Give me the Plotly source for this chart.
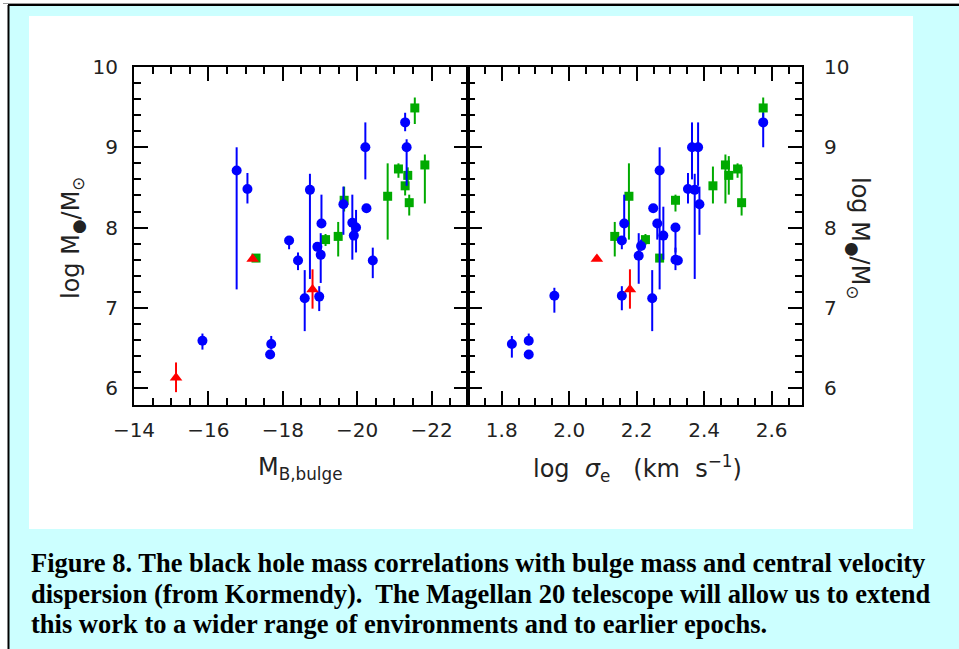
import plotly.graph_objects as go

W, H = 959, 649

# ---------------- data: left panel (bulge absolute magnitude) ----------------
blue_L_x = [-16.76, -17.05, -15.84, -17.69, -17.66, -18.17, -18.41, -18.59, -18.73, -18.93, -19.02,
            -19.04, -18.98, -19.63, -19.87, -19.91, -19.97, -20.22, -20.25, -20.42, -21.29, -21.33]
blue_L_y = [8.71, 8.48, 6.59, 6.55, 6.42, 7.84, 7.59, 7.12, 8.47, 7.76, 7.66,
            8.05, 7.14, 8.29, 8.06, 7.90, 8.00, 9.00, 8.24, 7.59, 9.31, 9.00]
blue_L_hi = [9.00, 8.68, 6.68, 6.65, 6.42, 7.89, 7.69, 7.47, 8.67, 7.76, 7.93,
             8.41, 7.27, 8.51, 8.41, 7.90, 8.22, 9.31, 8.24, 7.75, 9.43, 9.10]
blue_L_lo = [7.23, 8.30, 6.48, 6.48, 6.42, 7.73, 7.47, 6.71, 7.36, 7.76, 7.31,
             8.05, 6.96, 7.91, 7.60, 7.90, 7.69, 8.60, 8.24, 7.37, 9.20, 8.52]

green_L_x = [-17.28, -19.15, -19.49, -19.65, -20.82, -21.11, -21.36, -21.29, -21.40, -21.55, -21.82]
green_L_y = [7.62, 7.85, 7.89, 8.34, 8.39, 8.73, 8.65, 8.52, 8.31, 9.49, 8.78]
green_L_hi = [7.62, 7.92, 8.07, 8.51, 8.80, 8.80, 8.75, 8.52, 8.41, 9.62, 8.91]
green_L_lo = [7.62, 7.77, 7.64, 8.20, 7.85, 8.62, 8.52, 8.40, 8.15, 9.29, 8.30]

red_L_x = [-15.13, -17.19, -18.80]
red_L_y = [6.13, 7.61, 7.23]
red_L_hi = [6.32, 7.61, 7.48]
red_L_lo = [5.95, 7.61, 6.99]

# ---------------- data: right panel (log sigma_e) ----------------
blue_R_x = [1.83, 1.88, 1.88, 1.956, 2.156, 2.163, 2.156, 2.206, 2.213, 2.246, 2.249, 2.261,
            2.268, 2.279, 2.315, 2.315, 2.322, 2.352, 2.372, 2.364, 2.382, 2.386, 2.575]
blue_R_y = [6.55, 6.59, 6.42, 7.15, 7.84, 8.05, 7.15, 7.65, 7.77, 7.12, 8.24, 8.05,
            8.71, 7.90, 8.00, 7.60, 7.59, 8.48, 8.47, 9.00, 9.00, 8.29, 9.31]
blue_R_hi = [6.65, 6.68, 6.42, 7.25, 7.89, 8.41, 7.27, 7.93, 7.85, 7.47, 8.26, 8.05,
             9.00, 8.26, 8.00, 7.75, 7.59, 8.68, 8.67, 9.31, 9.31, 8.51, 9.43]
blue_R_lo = [6.38, 6.59, 6.42, 6.94, 7.73, 7.84, 6.97, 7.30, 7.77, 6.71, 8.22, 7.85,
             7.23, 7.60, 7.69, 7.47, 7.59, 8.30, 7.36, 8.60, 8.52, 7.91, 9.00]

green_R_x = [2.135, 2.177, 2.226, 2.268, 2.315, 2.426, 2.463, 2.473, 2.499, 2.511, 2.575]
green_R_y = [7.89, 8.39, 7.85, 7.62, 8.34, 8.52, 8.78, 8.65, 8.73, 8.31, 9.49]
green_R_hi = [8.07, 8.80, 7.92, 7.62, 8.41, 8.76, 8.91, 8.89, 8.80, 8.76, 9.62]
green_R_lo = [7.64, 7.85, 7.78, 7.62, 8.20, 8.30, 8.30, 8.41, 8.62, 8.15, 9.37]

red_R_x = [2.082, 2.180]
red_R_y = [7.61, 7.23]
red_R_hi = [7.61, 7.48]
red_R_lo = [7.61, 6.99]

y_ticks = [6, 7, 8, 9, 10]
xL_ticks = [-14, -16, -18, -20, -22]
xR_ticks = [1.8, 2.0, 2.2, 2.4, 2.6]

caption_lines = [
    "Figure 8. The black hole mass correlations with bulge mass and central velocity",
    "dispersion (from Kormendy).  The Magellan 20 telescope will allow us to extend",
    "this work to a wider range of environments and to earlier epochs.",
]

BLUE, GREEN, RED = "#0000ff", "#00aa00", "#ff0000"


def px_x(p):
    return p / W


def px_y(p):
    return 1 - p / H


def trace(x, y, hi, lo, color, symbol, size, xa, ya):
    return go.Scatter(
        x=x, y=y, mode="markers", xaxis=xa, yaxis=ya, showlegend=False,
        marker=dict(color=color, symbol=symbol, size=size, line=dict(width=0)),
        error_y=dict(type="data", symmetric=False,
                     array=[h - v for h, v in zip(hi, y)],
                     arrayminus=[v - l for v, l in zip(y, lo)],
                     color=color, thickness=2, width=0),
        hoverinfo="skip",
    )


fig = go.Figure()
for xa, ya, data in [
    ("x", "y", [(green_L_x, green_L_y, green_L_hi, green_L_lo, GREEN, "square", 9),
                (blue_L_x, blue_L_y, blue_L_hi, blue_L_lo, BLUE, "circle", 10),
                (red_L_x, red_L_y, red_L_hi, red_L_lo, RED, "triangle-up", 11)]),
    ("x2", "y2", [(green_R_x, green_R_y, green_R_hi, green_R_lo, GREEN, "square", 9),
                  (blue_R_x, blue_R_y, blue_R_hi, blue_R_lo, BLUE, "circle", 10),
                  (red_R_x, red_R_y, red_R_hi, red_R_lo, RED, "triangle-up", 11)]),
]:
    for (x, y, hi, lo, c, s, sz) in data:
        fig.add_trace(trace(x, y, hi, lo, c, s, sz, xa, ya))

tickfont = dict(family="DejaVu Sans", size=20, color="#222222")
common = dict(showline=True, linecolor="black", linewidth=2, mirror="allticks",
              ticks="inside", ticklen=14, tickwidth=2, tickcolor="black",
              showgrid=False, zeroline=False, tickfont=tickfont)

xLdom = [px_x(134), px_x(468)]
xRdom = [px_x(468), px_x(802)]
ydom = [px_y(405), px_y(67)]

fig.update_layout(
    width=W, height=H,
    margin=dict(l=0, r=0, t=0, b=0, autoexpand=False),
    paper_bgcolor="white", plot_bgcolor="rgba(0,0,0,0)",
    xaxis=dict(domain=xLdom, range=[-14, -22.98], anchor="y", tickvals=xL_ticks,
               minor=dict(dtick=0.5, tick0=-14, ticklen=7, tickwidth=2, tickcolor="black", ticks="inside"),
               ticklabelstandoff=6, **common),
    yaxis=dict(domain=ydom, range=[5.79, 10.0], anchor="x", tickvals=y_ticks,
               minor=dict(dtick=0.2, tick0=6, ticklen=7, tickwidth=2, tickcolor="black", ticks="inside"),
               ticklabelstandoff=10, **common),
    xaxis2=dict(domain=xRdom, range=[1.7, 2.69], anchor="y2", tickvals=xR_ticks, tickformat=".1f",
                minor=dict(dtick=0.05, tick0=1.7, ticklen=7, tickwidth=2, tickcolor="black", ticks="inside"),
                ticklabelstandoff=6, **common),
    yaxis2=dict(domain=ydom, range=[5.79, 10.0], anchor="x2", side="right", tickvals=y_ticks,
                minor=dict(dtick=0.2, tick0=6, ticklen=7, tickwidth=2, tickcolor="black", ticks="inside"),
                ticklabelstandoff=16, **common),
)

shapes = [
    dict(type="rect", xref="paper", yref="paper", x0=px_x(9), x1=1.0, y0=0.0, y1=px_y(6),
         fillcolor="#ccffff", line=dict(width=0), layer="below"),
    dict(type="rect", xref="paper", yref="paper", x0=px_x(29), x1=px_x(913), y0=px_y(529), y1=px_y(16),
         fillcolor="white", line=dict(width=0), layer="below"),
    dict(type="line", xref="paper", yref="paper", x0=px_x(8), x1=1.0, y0=px_y(5), y1=px_y(5),
         line=dict(color="black", width=2), layer="below"),
    dict(type="line", xref="paper", yref="paper", x0=px_x(3), x1=1.0, y0=px_y(3.5), y1=px_y(3.5),
         line=dict(color="#999999", width=1), layer="below"),
    dict(type="line", xref="paper", yref="paper", x0=px_x(8.5), x1=px_x(8.5), y0=0, y1=px_y(5),
         line=dict(color="black", width=2), layer="below"),
]
fig.update_layout(shapes=shapes)

title_font = dict(family="DejaVu Sans", size=24, color="#222222")
annotations = [
    dict(x=px_x(73), y=px_y(238), xref="paper", yref="paper", showarrow=False, textangle=-90,
         text="log M<sub>●</sub>/M<sub>⊙</sub>", font=title_font, xanchor="center", yanchor="middle"),
    dict(x=px_x(858), y=px_y(238), xref="paper", yref="paper", showarrow=False, textangle=90,
         text="log M<sub>●</sub>/M<sub>⊙</sub>", font=title_font, xanchor="center", yanchor="middle"),
    dict(x=px_x(300), y=px_y(468), xref="paper", yref="paper", showarrow=False,
         text="M<sub>B,bulge</sub>", font=title_font, xanchor="center", yanchor="middle"),
    dict(x=px_x(637), y=px_y(468), xref="paper", yref="paper", showarrow=False,
         text="log  <i>σ</i><sub>e</sub>   (km  s<sup>−1</sup>)", font=title_font,
         xanchor="center", yanchor="middle"),
]
for i, line in enumerate(caption_lines):
    annotations.append(dict(
        x=px_x(29), y=px_y(563 + 30.5 * i), xref="paper", yref="paper", showarrow=False,
        text="<b>" + line + "</b>", xanchor="left", yanchor="middle", align="left",
        font=dict(family="Liberation Serif", size=26.5, color="black")))
fig.update_layout(annotations=annotations)

fig.write_html("out.html")
